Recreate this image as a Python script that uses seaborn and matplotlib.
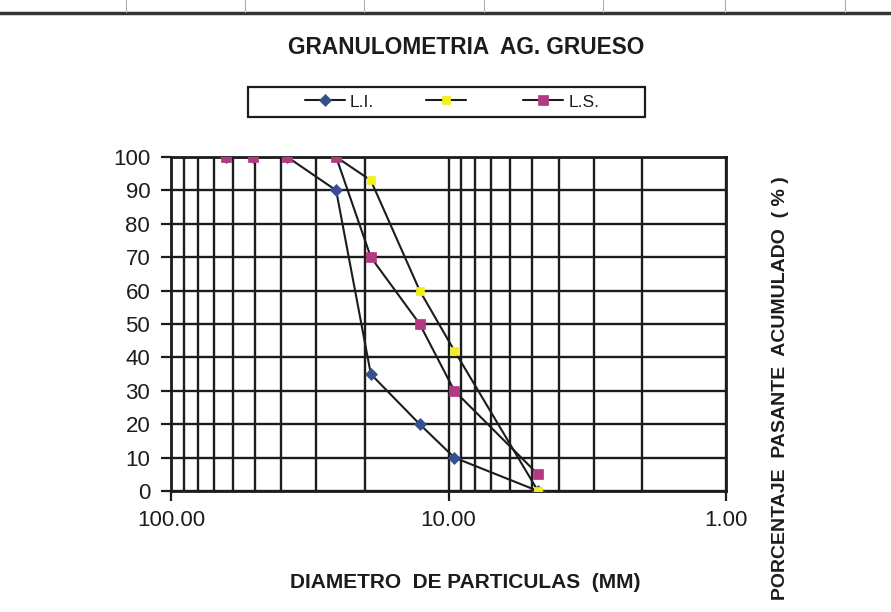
import numpy as np
import matplotlib
matplotlib.use("Agg")
import matplotlib.pyplot as plt
import seaborn as sns
from matplotlib.lines import Line2D
from matplotlib.patches import Rectangle
from matplotlib.ticker import FixedLocator, FixedFormatter, LogLocator, NullFormatter

# ---- data ----
sieve_mm = [63.5, 50.8, 38.1, 25.4, 19.05, 12.7, 9.525, 4.76]
li_vals = [100, 100, 100, 90, 35, 20, 10, 0]
mid_vals = [100, 100, 100, 100, 93, 60, 42, 0]
ls_vals = [100, 100, 100, 100, 70, 50, 30, 5]
series_labels = ["L.I.", "", "L.S."]
x_ticks = [100, 10, 1]
x_ticklabels = ["100.00", "10.00", "1.00"]
y_ticks = list(range(0, 101, 10))
title_txt = "GRANULOMETRIA  AG. GRUESO"
xlabel_txt = "DIAMETRO  DE PARTICULAS  (MM)"
ylabel_txt = "PORCENTAJE  PASANTE  ACUMULADO  ( % )"

sns.set_theme(style="ticks")
plt.rcParams['font.family'] = ['Liberation Sans', 'DejaVu Sans']

W, H = 891, 612
fig = plt.figure(figsize=(W / 100, H / 100), dpi=100)
fig.patch.set_facecolor("white")
ax = fig.add_axes([171 / W, 1 - 491 / H, 555 / W, 334 / H])

ink = "#1c1c1c"
marker_styles = [
    dict(marker="D", color="#34518d", ms=6.5),
    dict(marker="s", color="#f3ef1c", ms=6.0),
    dict(marker="s", color="#b23a82", ms=6.5),
]
for vals, st in zip([li_vals, mid_vals, ls_vals], marker_styles):
    sns.lineplot(x=sieve_mm, y=vals, ax=ax, color=ink, lw=1.5,
                 marker=st["marker"], markersize=st["ms"],
                 markerfacecolor=st["color"], markeredgecolor=st["color"],
                 markeredgewidth=0.5, sort=False, legend=False, zorder=3)
handles = list(ax.lines)

ax.set_xscale("log")
ax.set_xlim(100, 1)
ax.set_ylim(0, 100)
ax.xaxis.set_major_locator(FixedLocator(x_ticks))
ax.xaxis.set_major_formatter(FixedFormatter(x_ticklabels))
ax.xaxis.set_minor_locator(LogLocator(base=10, subs=np.arange(2, 10)))
ax.xaxis.set_minor_formatter(NullFormatter())
ax.yaxis.set_major_locator(FixedLocator(y_ticks))

ax.set_axisbelow(True)
ax.grid(True, which="both", axis="x", color=ink, lw=1.7)
ax.grid(True, which="major", axis="y", color=ink, lw=1.7)
ax.tick_params(axis="x", which="minor", length=0)
ax.tick_params(axis="both", which="major", direction="out", length=7, width=1.6,
               color=ink, labelsize=16, labelcolor=ink)
ax.tick_params(axis="y", pad=8)
ax.tick_params(axis="x", pad=7)
for s in ax.spines.values():
    s.set_color(ink)
    s.set_linewidth(2)

ax.set_xlabel(xlabel_txt, fontsize=15, fontweight="bold", color=ink, va="center")
ax.xaxis.set_label_coords((465 - 171) / 555, (491 - 582) / 334)
ax.set_ylabel(ylabel_txt, fontsize=14, fontweight="bold", color=ink)
ax.yaxis.set_label_position("right")
ax.yaxis.label.set_verticalalignment("center")
ax.yaxis.label.set_horizontalalignment("center")
ax.yaxis.set_label_coords((780 - 171) / 555, (491 - 388) / 334)

fig.suptitle(title_txt, x=466 / W, y=1 - 47 / H, va="center", ha="center",
             fontsize=16.3, fontweight="bold", color=ink)

fig.legend(handles, series_labels, loc="center", bbox_to_anchor=(452 / W, 1 - 102 / H),
           ncol=3, frameon=False, fontsize=12.5, handlelength=2.3, handletextpad=0.3,
           columnspacing=3.0, labelcolor=ink)
fig.add_artist(Rectangle((248 / W, 1 - 117 / H), 397 / W, 30 / H, transform=fig.transFigure,
                         fill=False, ec=ink, lw=1.6))

# scanned page border remnants at the top
fig.add_artist(Line2D([0, 1], [1 - 13 / H] * 2, transform=fig.transFigure, color="#333333", lw=2.5))
for xv in [126, 245, 364, 484, 603, 725, 845]:
    fig.add_artist(Line2D([xv / W] * 2, [1, 1 - 12 / H], transform=fig.transFigure,
                          color="#b0b0b0", lw=0.8))

fig.savefig("out.png", dpi=100, facecolor="white")
